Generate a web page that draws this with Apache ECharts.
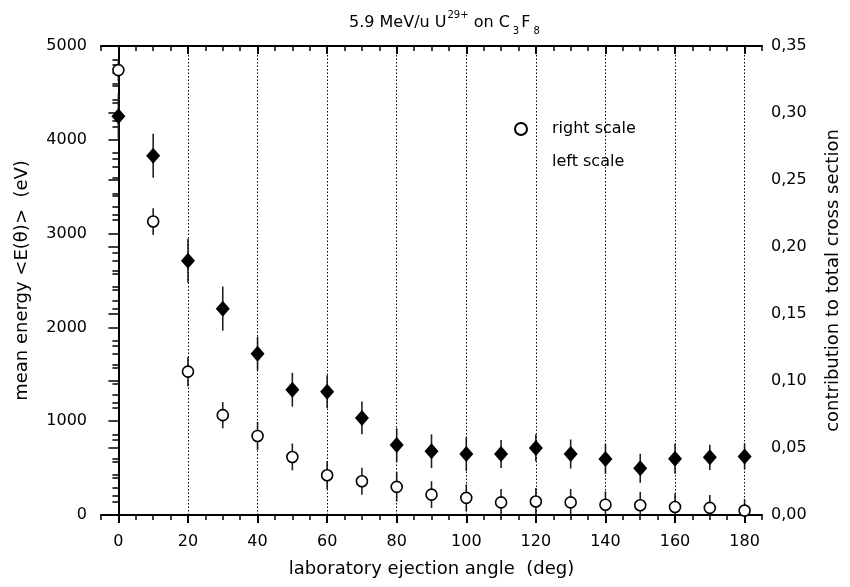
<!DOCTYPE html>
<html><head><meta charset="utf-8">
<script src="https://cdn.jsdelivr.net/npm/echarts@6/dist/echarts.min.js"></script>
<style>html,body{margin:0;padding:0;background:#fff}#c{width:850px;height:587px}</style>
</head><body><div id="c"></div>
<script>
// ---- data ----
const angles = [0, 10, 20, 30, 40, 50, 60, 70, 80, 90, 100, 110, 120, 130, 140, 150, 160, 170, 180];
const meanEnergy = [4250, 3830, 2710, 2200, 1720, 1335, 1315, 1035, 745, 680, 650, 650, 715, 650, 598, 498, 600, 615, 625];
const meanEnergyErr = [235, 235, 235, 235, 180, 180, 175, 175, 180, 180, 180, 150, 145, 155, 160, 155, 160, 135, 140];
const contribution = [0.332, 0.219, 0.107, 0.0745, 0.059, 0.0433, 0.0297, 0.0252, 0.021, 0.0152, 0.0128, 0.0094, 0.0101, 0.0094, 0.0077, 0.0073, 0.006, 0.0053, 0.0033];
const contributionErr = [0.008, 0.010, 0.011, 0.0098, 0.0105, 0.010, 0.0105, 0.010, 0.011, 0.010, 0.010, 0.010, 0.010, 0.010, 0.010, 0.010, 0.010, 0.0097, 0.0085];
const majorTicks = [0, 20, 40, 60, 80, 100, 120, 140, 160, 180];
const energyTicks = [0, 1000, 2000, 3000, 4000, 5000];
const contributionTicks = [0, 0.05, 0.10, 0.15, 0.20, 0.25, 0.30, 0.35];

const FONT = 'DejaVu Sans, Liberation Sans, sans-serif';
const chart = echarts.init(document.getElementById('c'), null, {renderer: 'canvas'});

function errRender(params, api) {
  const x = api.value(0), lo = api.value(1), hi = api.value(2);
  const p1 = api.coord([x, lo]);
  const p2 = api.coord([x, hi]);
  return {
    type: 'line',
    shape: {x1: p1[0], y1: p1[1], x2: p2[0], y2: p2[1]},
    style: {stroke: '#222', lineWidth: 1.6}
  };
}

const tickLine = {color: '#000', width: 1.5};
const labelStyle = {fontFamily: FONT, fontSize: 16, color: '#000'};
const nameStyle = {fontFamily: FONT, fontSize: 18, color: '#000'};
const option = {
  animation: false,
  backgroundColor: '#fff',
  textStyle: {fontFamily: FONT, color: '#000'},
  title: {
    text: '{n|5.9 MeV/u U}{sup|29+}{n| on C}{sub|3}{n|F}{sub|8}',
    left: 344, top: 5,
    textStyle: {
      fontFamily: FONT, fontWeight: 'normal',
      rich: {
        n: {fontSize: 16, fontFamily: FONT, fontWeight: 'normal', color: '#000', lineHeight: 26, verticalAlign: 'middle'},
        sup: {fontSize: 10, fontFamily: FONT, fontWeight: 'normal', color: '#000', lineHeight: 10, verticalAlign: 'top', padding: [0, 0, 0, 1]},
        sub: {fontSize: 10, fontFamily: FONT, fontWeight: 'normal', color: '#000', lineHeight: 10, verticalAlign: 'bottom', padding: [0, 2, 0, 3]}
      }
    }
  },
  legend: {
    orient: 'vertical', left: 509, top: 116,
    itemWidth: 12, itemHeight: 12, itemGap: 17,
    textStyle: {fontFamily: FONT, fontSize: 16, color: '#000', padding: [0, 0, 0, 20]},
    data: [{name: 'right scale'}, {name: 'left scale', icon: 'none'}]
  },
  grid: {left: 101, right: 86, top: 46, bottom: 72, containLabel: false},
  xAxis: [
    {
      type: 'value', position: 'bottom', min: -5, max: 185, interval: 5,
      name: 'laboratory ejection angle  (deg)', nameLocation: 'middle', nameGap: 45,
      nameTextStyle: nameStyle,
      axisLine: {show: true, lineStyle: {color: '#000', width: 2}},
      axisTick: {show: true, length: 5, inside: false, lineStyle: tickLine},
      axisLabel: Object.assign({customValues: majorTicks, margin: 19}, labelStyle),
      splitLine: {show: false}
    },
    {
      type: 'value', position: 'bottom', min: -5, max: 185,
      axisLine: {show: false},
      axisTick: {show: true, customValues: majorTicks, length: 8, inside: false, lineStyle: {color: '#000', width: 2}},
      axisLabel: {show: false},
      splitLine: {show: false}
    },
    {
      type: 'value', position: 'top', min: -5, max: 185, interval: 5,
      axisLine: {show: true, lineStyle: {color: '#000', width: 2}},
      axisTick: {show: true, length: 5, inside: true, lineStyle: tickLine},
      axisLabel: {show: false},
      splitLine: {show: false}
    },
    {
      type: 'value', position: 'top', min: -5, max: 185,
      axisLine: {show: false},
      axisTick: {show: true, customValues: majorTicks, length: 8, inside: true, lineStyle: {color: '#000', width: 2}},
      axisLabel: {show: false},
      splitLine: {show: false}
    }
  ],
  yAxis: [
    {
      type: 'value', position: 'left', min: energyTicks[0], max: energyTicks[energyTicks.length - 1], interval: 1000,
      name: 'mean energy <E(θ)>  (eV)', nameLocation: 'middle', nameGap: 70, nameRotate: 90,
      nameTextStyle: nameStyle,
      axisLine: {show: true, lineStyle: {color: '#000', width: 2}},
      axisTick: {show: true, length: 10, inside: false, lineStyle: tickLine},
      minorTick: {show: true, splitNumber: 5, length: 6, lineStyle: tickLine},
      axisLabel: Object.assign({margin: 14, formatter: v => String(v)}, labelStyle),
      splitLine: {show: false}, minorSplitLine: {show: false}
    },
    {
      type: 'value', position: 'right', min: contributionTicks[0], max: contributionTicks[contributionTicks.length - 1], interval: 0.05,
      name: 'contribution to total cross section', nameLocation: 'middle', nameGap: 62, nameRotate: 90,
      nameTextStyle: nameStyle,
      axisLine: {show: true, lineStyle: {color: '#000', width: 2}},
      axisTick: {show: true, length: 10, inside: true, lineStyle: tickLine},
      minorTick: {show: true, splitNumber: 5, length: 6, lineStyle: tickLine},
      axisLabel: Object.assign({margin: 9, formatter: v => v.toFixed(2).replace('.', ',')}, labelStyle),
      splitLine: {show: false}, minorSplitLine: {show: false}
    }
  ],
  series: [
    {
      name: 'energy error', type: 'custom', xAxisIndex: 0, yAxisIndex: 0, clip: true, z: 2,
      renderItem: errRender,
      encode: {x: 0, y: [1, 2]},
      data: angles.map((a, i) => [a, meanEnergy[i] - meanEnergyErr[i], meanEnergy[i] + meanEnergyErr[i]]),
      markLine: {
        silent: true, symbol: ['none', 'none'], label: {show: false},
        lineStyle: {type: [1.5, 2], color: '#000', width: 1},
        data: majorTicks.map(v => ({xAxis: v}))
      }
    },
    {
      name: 'contribution error', type: 'custom', xAxisIndex: 0, yAxisIndex: 1, clip: true, z: 2,
      renderItem: errRender,
      encode: {x: 0, y: [1, 2]},
      data: angles.map((a, i) => [a, contribution[i] - contributionErr[i], contribution[i] + contributionErr[i]])
    },
    {
      name: 'left scale', type: 'scatter', xAxisIndex: 0, yAxisIndex: 0, z: 4,
      symbol: 'diamond', symbolSize: [14, 16],
      itemStyle: {color: '#000', opacity: 1},
      data: angles.map((a, i) => [a, meanEnergy[i]])
    },
    {
      name: 'right scale', type: 'scatter', xAxisIndex: 0, yAxisIndex: 1, z: 5,
      symbol: 'circle', symbolSize: 11,
      itemStyle: {color: '#fff', borderColor: '#000', borderWidth: 1.6, opacity: 1},
      data: angles.map((a, i) => [a, contribution[i]])
    }
  ]
};
chart.setOption(option);
</script>
</body></html>
